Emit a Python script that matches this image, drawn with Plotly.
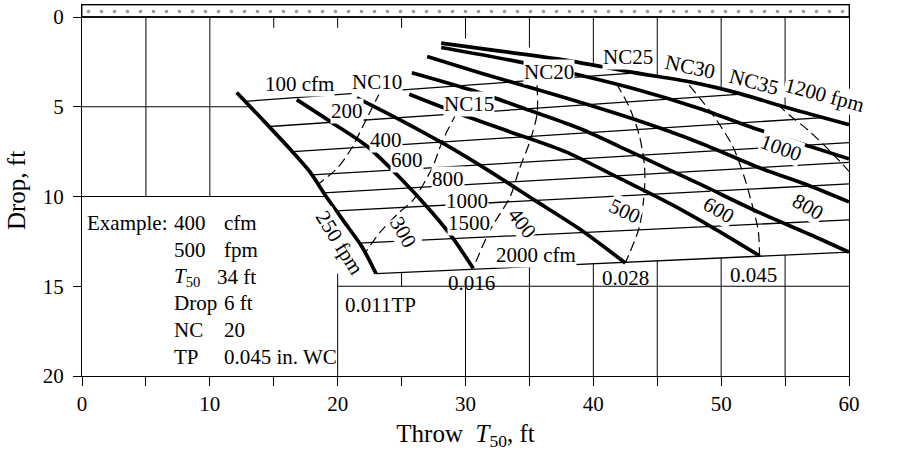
import numpy as np
import plotly.graph_objects as go

# ---------------- data: throw T50 (ft) and drop (ft) ----------------
# Outlet velocity lines (fpm)
vel_labels = ["250 fpm", "300", "400", "500", "600", "800", "1000", "1200 fpm"]
v250_x = [12.1, 14.1, 16.2, 17.8, 19.1, 20.5, 21.9, 23.0]
v250_d = [4.2, 5.7, 7.3, 8.6, 10.0, 11.4, 12.8, 14.3]
v300_x = [16.8, 19.6, 22.3, 24.8, 27.4, 29.0, 30.6]
v300_d = [4.6, 5.9, 7.2, 8.9, 10.9, 12.3, 14.0]
v400_x = [21.5, 24.8, 28.4, 31.9, 35.4, 38.9, 42.5]
v400_d = [4.5, 5.7, 7.1, 8.6, 10.2, 11.8, 13.7]
v500_x = [25.6, 29.2, 33.5, 37.8, 42.1, 46.0, 49.5, 53.0]
v500_d = [4.3, 5.3, 6.4, 7.5, 9.0, 10.4, 11.8, 13.3]
v600_x = [25.8, 30.6, 35.0, 38.9, 43.2, 48.3, 53.0, 56.9, 60.0]
v600_d = [3.1, 4.1, 5.2, 6.2, 7.6, 9.3, 10.9, 12.1, 13.1]
v800_x = [27.0, 31.1, 37.8, 43.2, 48.3, 53.0, 56.9, 60.0]
v800_d = [2.2, 3.1, 4.5, 5.7, 7.0, 8.4, 9.4, 10.3]
v1000_x = [28.1, 34.2, 39.3, 43.2, 48.3, 53.0, 56.9, 60.0]
v1000_d = [1.7, 2.5, 3.3, 4.0, 5.1, 6.3, 7.2, 7.9]
v1200_x = [28.1, 32.7, 37.8, 43.2, 47.5, 51.1, 55.4, 60.0]
v1200_d = [1.45, 1.9, 2.4, 3.1, 3.6, 4.2, 5.1, 6.0]

# Total pressure at the end of each velocity line (in. WC)
tp_labels = ["0.011TP", "0.016", "0.028", "0.045", "0.065", "0.113", "0.180", "0.265"]

# Airflow lines (cfm): start and end points
cfm_labels = ["100 cfm", "200", "400", "600", "800", "1000", "1500", "2000 cfm"]
cfm_x0 = [12.7, 14.7, 16.5, 18.0, 18.9, 19.9, 21.6, 23.0]
cfm_d0 = [4.7, 6.1, 7.5, 8.8, 9.8, 10.8, 12.6, 14.3]
cfm_x1 = [43.6, 51.6, 58.0, 60.0, 60.0, 60.0, 60.0, 60.0]
cfm_d1 = [3.1, 4.3, 5.6, 7.0, 8.1, 9.3, 11.3, 13.1]

# Noise criterion lines (dashed)
nc_labels = ["NC10", "NC15", "NC20", "NC25", "NC30", "NC35"]
nc10_x = [23.3, 22.1, 21.1, 20.0, 18.5]
nc10_d = [4.2, 5.9, 7.3, 8.4, 9.3]
nc15_x = [29.3, 28.2, 27.4, 25.9, 24.8, 23.3, 22.1]
nc15_d = [5.35, 6.9, 8.4, 10.2, 10.9, 12.0, 13.2]
nc20_x = [35.6, 35.6, 35.0, 34.2, 33.5, 31.9, 30.6]
nc20_d = [3.8, 5.4, 7.0, 8.5, 10.0, 11.9, 14.0]
nc25_x = [41.8, 42.8, 43.6, 44.0, 44.0, 43.6, 42.5]
nc25_d = [3.7, 5.0, 6.6, 8.3, 9.6, 11.7, 13.7]
nc30_x = [47.5, 49.5, 50.9, 51.8, 52.4, 52.9, 53.0]
nc30_d = [3.8, 5.6, 7.2, 8.9, 10.4, 11.9, 13.3]
nc35_x = [54.4, 55.4, 56.8, 58.7, 60.0]
nc35_d = [4.85, 5.5, 6.3, 7.6, 8.6]

# Example box
example_rows = [("Example:", "400", "cfm"), ("", "500", "fpm"),
                ("", "<i>T</i><sub>50</sub>", "34 ft"), ("", "Drop", "6 ft"),
                ("", "NC", "20"), ("", "TP", "0.045 in. WC")]

# ---------------- layout helpers (positions / styles) ----------------
FONT = "Liberation Serif"
FS = 21
D_TOP = -0.67

vel_x = [v250_x, v300_x, v400_x, v500_x, v600_x, v800_x, v1000_x, v1200_x]
vel_d = [v250_d, v300_d, v400_d, v500_d, v600_d, v800_d, v1000_d, v1200_d]
nc_x = [nc10_x, nc15_x, nc20_x, nc25_x, nc30_x, nc35_x]
nc_d = [nc10_d, nc15_d, nc20_d, nc25_d, nc30_d, nc35_d]

vel_lab_pos = [(20.15, 12.6, 58), (25.1, 12.0, 60), (34.4, 11.5, 52), (42.45, 10.8, 25),
               (49.8, 10.75, 30), (56.8, 10.6, 30), (54.7, 7.3, 20), (58.1, 4.35, 15)]
cfm_lab_pos = [(17.0, 3.73), (20.7, 5.24), (23.8, 6.85), (25.4, 7.97), (28.6, 9.0),
               (30.1, 10.25), (30.25, 11.45), (35.5, 13.26)]
nc_lab_pos = [(23.1, 3.62, 0), (30.25, 4.85, 0), (36.5, 3.06, 0), (42.7, 2.23, 0),
              (47.6, 2.79, 12), (52.6, 3.62, 15)]
tp_lab_pos = [(20.5, 16.04, "left"), (30.5, 14.82, "center"), (42.5, 14.54, "center"),
              (52.5, 14.37, "center"), (61.0, 13.26, "left"), (61.0, 10.47, "left"),
              (61.0, 7.52, "left"), (61.0, 6.02, "left")]

fig = go.Figure()


def add_line(x, y, width, dash=None, shape="linear"):
    fig.add_trace(go.Scatter(x=x, y=y, mode="lines",
                             line=dict(color="black", width=width, dash=dash,
                                       shape=shape, smoothing=0.8),
                             hoverinfo="skip", showlegend=False))


# ceiling stipple band
fig.add_trace(go.Scatter(x=[0, 60, 60, 0, 0], y=[D_TOP, D_TOP, 0, 0, D_TOP],
                         mode="lines", fill="toself", fillcolor="white",
                         fillpattern=dict(shape=".", fgcolor="#333", bgcolor="white",
                                          size=13, solidity=0.06),
                         line=dict(color="black", width=0.8),
                         hoverinfo="skip", showlegend=False))

# grid segments (hidden behind the chart region and example box)
edge_x = np.linspace(cfm_x0[-1], cfm_x1[-1], 50)
edge_d = np.interp(edge_x, [cfm_x0[-1], cfm_x1[-1]], [cfm_d0[-1], cfm_d1[-1]])
top_d = lambda xx: float(np.interp(xx, v1200_x, v1200_d))
bot_d = lambda xx: float(np.interp(xx, edge_x, edge_d))
left_x = lambda dd: float(np.interp(dd, v250_d, v250_x))

segs = [
    ((0, 0), (60, 0)),
    ((0, 5), (left_x(5), 5)),
    ((0, 10), (left_x(10), 10)),
    ((20, 15), (60, 15)),
    ((5, 0), (5, 10)), ((10, 0), (10, 10)),
    ((15, 0), (15, 0.6)), ((20, 0), (20, 0.6)), ((25, 0), (25, 0.6)),
    ((30, 0), (30, 1.2)), ((35, 0), (35, 1.7)),
    ((20, 14.3), (20, 20)), ((25, bot_d(25)), (25, 15)), ((30, 15), (30, 20)),
]
for xv in [40, 45, 50, 55]:
    segs.append(((xv, 0), (xv, top_d(xv))))
    segs.append(((xv, bot_d(xv)), (xv, 20)))
segs.append(((35, bot_d(35)), (35, 20)))
gx, gy = [], []
for (a, b) in segs:
    gx += [a[0], b[0], None]
    gy += [a[1], b[1], None]
add_line(gx, gy, 1.0)
add_line([0, 60], [0, 0], 1.6)

# cfm lines
for i in range(len(cfm_labels)):
    add_line([cfm_x0[i], cfm_x1[i]], [cfm_d0[i], cfm_d1[i]], 1.3)

# NC lines
for i in range(len(nc_labels)):
    add_line(nc_x[i], nc_d[i], 1.2, dash="10px,5px", shape="spline")

# velocity lines
for i in range(len(vel_labels)):
    add_line(vel_x[i], vel_d[i], 3.7, shape="spline")

ann = []


def label(text, x, y, angle=0, xanchor="center", bg="white"):
    ann.append(dict(text=text, x=x, y=y, xref="x", yref="y", showarrow=False,
                    textangle=angle, xanchor=xanchor, yanchor="middle",
                    font=dict(family=FONT, size=FS, color="black"),
                    bgcolor=bg, borderpad=0))


for t, (x, y, a) in zip(vel_labels, vel_lab_pos):
    label(t, x, y, a)
for t, (x, y) in zip(cfm_labels, cfm_lab_pos):
    label(t, x, y)
for t, (x, y, a) in zip(nc_labels, nc_lab_pos):
    label(t, x, y, a)
for t, (x, y, anc) in zip(tp_labels, tp_lab_pos):
    label(t, x, y, 0, anc, bg="rgba(0,0,0,0)")

row_d = [11.48, 12.98, 14.48, 15.93, 17.44, 18.94]
for r, (c1, c2, c3) in enumerate(example_rows):
    if c1:
        label(c1, 0.35, row_d[r], 0, "left", bg="rgba(0,0,0,0)")
    label(c2, 7.08, row_d[r], 0, "left", bg="rgba(0,0,0,0)")
    label(c3, 10.5 if r == 2 else 11.0, row_d[r], 0, "left", bg="rgba(0,0,0,0)")

fig.update_layout(
    width=922, height=451,
    margin=dict(l=82, r=73, t=5, b=75),
    plot_bgcolor="white", paper_bgcolor="white",
    font=dict(family=FONT, size=FS, color="black"),
    annotations=ann,
    showlegend=False,
)
fig.update_xaxes(range=[0, 60], showgrid=False, zeroline=False, automargin=False,
                 showline=True, linecolor="black", linewidth=1, mirror=True,
                 tickvals=[0, 10, 20, 30, 40, 50, 60], ticks="outside", ticklen=9,
                 tickcolor="black",
                 minor=dict(tickvals=[5, 15, 25, 35, 45, 55], ticks="outside",
                            ticklen=9, tickcolor="black"),
                 title=dict(text="Throw  <i>T</i><sub>50</sub>, ft", standoff=12))
fig.update_yaxes(range=[20, D_TOP], showgrid=False, zeroline=False, automargin=False,
                 showline=True, linecolor="black", linewidth=1, mirror=True,
                 tickvals=[0, 5, 10, 15, 20], ticks="outside", ticklen=8,
                 tickcolor="black", ticklabelstandoff=5,
                 title=dict(text="Drop, ft", standoff=10))

fig.write_html("out.html", config={"displayModeBar": False},
               post_script="document.body.style.margin='0';document.body.style.padding='0';")
